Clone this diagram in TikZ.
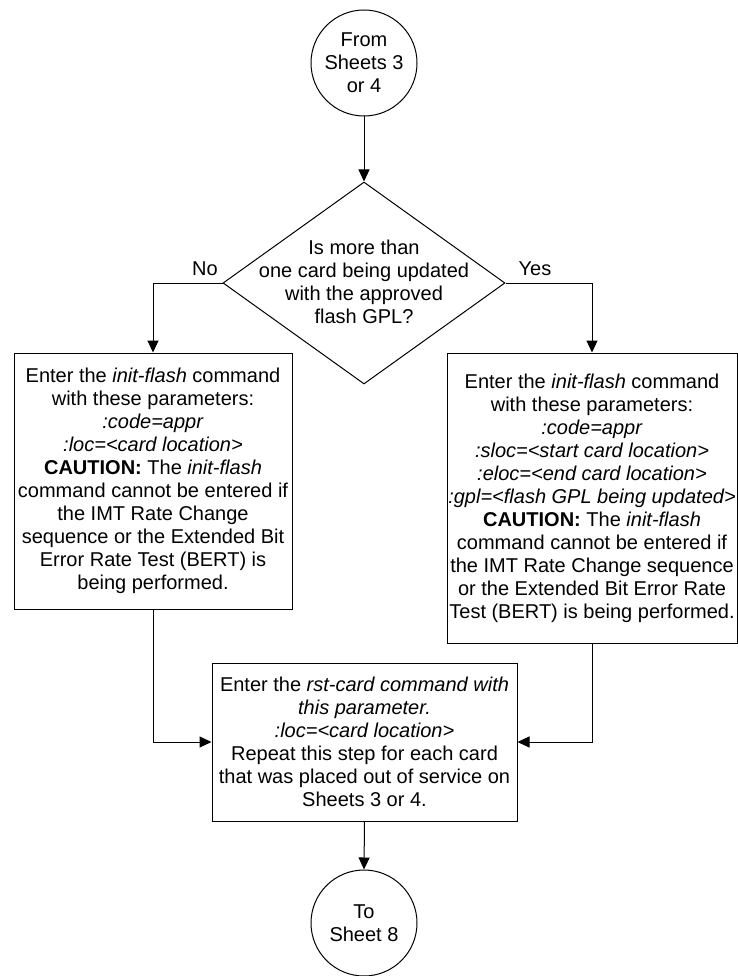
\documentclass[tikz,border=0pt]{standalone}
\usepackage{fontspec}
\setmainfont{Liberation Sans}
\usetikzlibrary{shapes.geometric,arrows.meta}
\tikzset{
  txt/.style={font=\fontsize{20}{23}\selectfont, align=center},
  stepbox/.style={txt, draw, line width=1pt, inner sep=0pt},
  term/.style={txt, draw, circle, line width=1pt, inner sep=0pt, minimum size=106pt},
  decision/.style={draw, diamond, line width=1pt, inner sep=0pt, minimum width=282pt, minimum height=202pt},
  arr/.style={line width=1pt, -{Triangle[length=12pt,width=11pt]}},
}
\begin{document}
\begin{tikzpicture}[x=1pt,y=-1pt]
\useasboundingbox (0,0) rectangle (738,976);
\fill[white] (0,0) rectangle (738,976);
\node[term] (start) at (364,63) {From\\Sheets 3\\or 4};
\node[decision] (dec) at (364,283) {};
\node[txt] (dectext) at (364,282) {Is more than\\one card being updated\\with the approved\\flash GPL?};
\node[txt] (no) at (205,269) {No};
\node[txt] (yes) at (535,269) {Yes};
\node[stepbox, minimum width=278pt, minimum height=256pt] (lbox) at (153,481)
 {Enter the \textit{init-flash} command\\with these parameters:\\\textit{:code=appr}\\\textit{:loc=<card location>}\\\textbf{CAUTION:} The \textit{init-flash}\\command cannot be entered if\\the IMT Rate Change\\sequence or the Extended Bit\\Error Rate Test (BERT) is\\being performed.};
\node[stepbox, minimum width=290pt, minimum height=290pt] (rbox) at (592,498)
 {Enter the \textit{init-flash} command\\with these parameters:\\\textit{:code=appr}\\\textit{:sloc=<start card location>}\\\textit{:eloc=<end card location>}\\\textit{:gpl=<flash GPL being updated>}\\\textbf{CAUTION:} The \textit{init-flash}\\command cannot be entered if\\the IMT Rate Change sequence\\or the Extended Bit Error Rate\\Test (BERT) is being performed.};
\node[stepbox, minimum width=305pt, minimum height=158pt] (bbox) at (364.5,742)
 {Enter the \textit{rst-card command with}\\\textit{this parameter.}\\\textit{:loc=<card location>}\\Repeat this step for each card\\that was placed out of service on\\Sheets 3 or 4.};
\node[term] (end) at (364,923) {To\\Sheet 8};
\draw[arr] (start.south) -- (dec.north);
\draw[arr] (dec.west) -| (lbox.north);
\draw[arr] (dec.east) -| (rbox.north);
\draw[arr] (lbox.south) |- (bbox.west);
\draw[arr] (rbox.south) |- (bbox.east);
\draw[arr] (bbox.south) -- (end.north);
\end{tikzpicture}
\end{document}
